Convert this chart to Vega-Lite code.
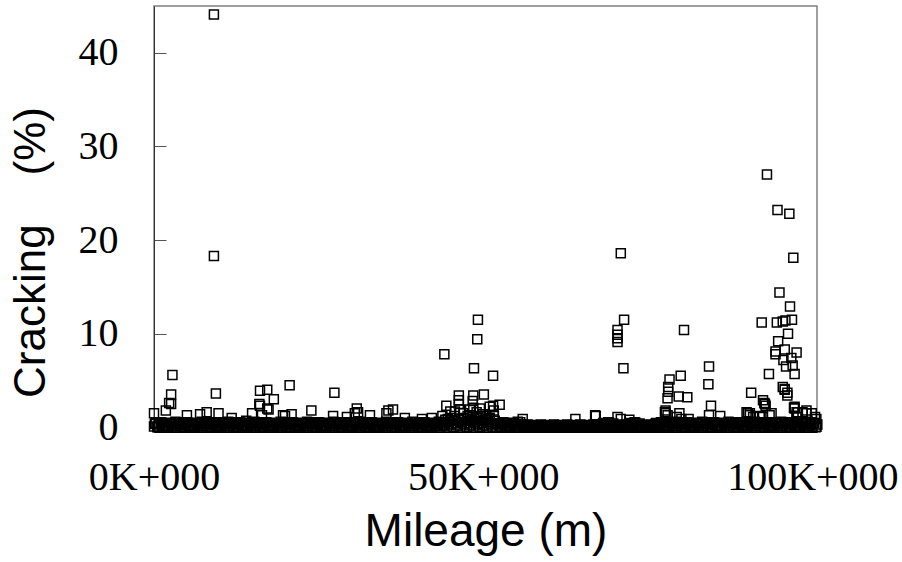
{
"$schema": "https://vega.github.io/schema/vega-lite/v6.json",
"width": 663, "height": 426,
"autosize": {"type": "none"},
"padding": {"left": 154, "top": 6, "right": 85, "bottom": 130},
"background": "white",
"config": {"view": {"stroke": "#808080", "strokeWidth": 1.5}},
"data": {"values": [
{"m":0,"c":0.1},{"m":250,"c":0.45},{"m":500,"c":0.0},{"m":750,"c":0.3},{"m":1000,"c":0.55},{"m":1250,"c":0.2},{"m":1500,"c":0.05},{"m":1750,"c":0.4},
{"m":2000,"c":0.25},{"m":2250,"c":0.0},{"m":2500,"c":0.5},{"m":2750,"c":0.15},{"m":3000,"c":0.35},{"m":3250,"c":0.6},{"m":3500,"c":0.1},{"m":3750,"c":0.3},
{"m":4000,"c":0.1},{"m":4250,"c":0.45},{"m":4500,"c":0.0},{"m":4750,"c":0.3},{"m":5000,"c":0.55},{"m":5250,"c":0.2},{"m":5500,"c":0.05},{"m":5750,"c":0.4},
{"m":6000,"c":0.25},{"m":6250,"c":0.0},{"m":6500,"c":0.5},{"m":6750,"c":0.15},{"m":7000,"c":0.35},{"m":7250,"c":0.6},{"m":7500,"c":0.1},{"m":7750,"c":0.3},
{"m":8000,"c":0.1},{"m":8250,"c":0.45},{"m":8500,"c":0.0},{"m":8750,"c":0.3},{"m":9000,"c":0.55},{"m":9250,"c":0.2},{"m":9500,"c":0.05},{"m":9750,"c":0.4},
{"m":10000,"c":0.25},{"m":10250,"c":0.0},{"m":10500,"c":0.5},{"m":10750,"c":0.15},{"m":11000,"c":0.35},{"m":11250,"c":0.6},{"m":11500,"c":0.1},{"m":11750,"c":0.3},
{"m":12000,"c":0.1},{"m":12250,"c":0.45},{"m":12500,"c":0.0},{"m":12750,"c":0.3},{"m":13000,"c":0.55},{"m":13250,"c":0.2},{"m":13500,"c":0.05},{"m":13750,"c":0.4},
{"m":14000,"c":0.25},{"m":14250,"c":0.0},{"m":14500,"c":0.5},{"m":14750,"c":0.15},{"m":15000,"c":0.35},{"m":15250,"c":0.6},{"m":15500,"c":0.1},{"m":15750,"c":0.3},
{"m":16000,"c":0.1},{"m":16250,"c":0.45},{"m":16500,"c":0.0},{"m":16750,"c":0.3},{"m":17000,"c":0.55},{"m":17250,"c":0.2},{"m":17500,"c":0.05},{"m":17750,"c":0.4},
{"m":18000,"c":0.25},{"m":18250,"c":0.0},{"m":18500,"c":0.5},{"m":18750,"c":0.15},{"m":19000,"c":0.35},{"m":19250,"c":0.6},{"m":19500,"c":0.1},{"m":19750,"c":0.3},
{"m":20000,"c":0.1},{"m":20250,"c":0.45},{"m":20500,"c":0.0},{"m":20750,"c":0.3},{"m":21000,"c":0.55},{"m":21250,"c":0.2},{"m":21500,"c":0.05},{"m":21750,"c":0.4},
{"m":22000,"c":0.25},{"m":22250,"c":0.0},{"m":22500,"c":0.5},{"m":22750,"c":0.15},{"m":23000,"c":0.35},{"m":23250,"c":0.6},{"m":23500,"c":0.1},{"m":23750,"c":0.3},
{"m":24000,"c":0.1},{"m":24250,"c":0.45},{"m":24500,"c":0.0},{"m":24750,"c":0.3},{"m":25000,"c":0.55},{"m":25250,"c":0.2},{"m":25500,"c":0.05},{"m":25750,"c":0.4},
{"m":26000,"c":0.25},{"m":26250,"c":0.0},{"m":26500,"c":0.5},{"m":26750,"c":0.15},{"m":27000,"c":0.35},{"m":27250,"c":0.6},{"m":27500,"c":0.1},{"m":27750,"c":0.3},
{"m":28000,"c":0.1},{"m":28250,"c":0.45},{"m":28500,"c":0.0},{"m":28750,"c":0.3},{"m":29000,"c":0.55},{"m":29250,"c":0.2},{"m":29500,"c":0.05},{"m":29750,"c":0.4},
{"m":30000,"c":0.25},{"m":30250,"c":0.0},{"m":30500,"c":0.5},{"m":30750,"c":0.15},{"m":31000,"c":0.35},{"m":31250,"c":0.6},{"m":31500,"c":0.1},{"m":31750,"c":0.3},
{"m":32000,"c":0.1},{"m":32250,"c":0.45},{"m":32500,"c":0.0},{"m":32750,"c":0.3},{"m":33000,"c":0.55},{"m":33250,"c":0.2},{"m":33500,"c":0.05},{"m":33750,"c":0.4},
{"m":34000,"c":0.25},{"m":34250,"c":0.0},{"m":34500,"c":0.5},{"m":34750,"c":0.15},{"m":35000,"c":0.35},{"m":35250,"c":0.6},{"m":35500,"c":0.1},{"m":35750,"c":0.3},
{"m":36000,"c":0.1},{"m":36250,"c":0.45},{"m":36500,"c":0.0},{"m":36750,"c":0.3},{"m":37000,"c":0.55},{"m":37250,"c":0.2},{"m":37500,"c":0.05},{"m":37750,"c":0.4},
{"m":38000,"c":0.25},{"m":38250,"c":0.0},{"m":38500,"c":0.5},{"m":38750,"c":0.15},{"m":39000,"c":0.35},{"m":39250,"c":0.6},{"m":39500,"c":0.1},{"m":39750,"c":0.3},
{"m":40000,"c":0.1},{"m":40250,"c":0.45},{"m":40500,"c":0.0},{"m":40750,"c":0.3},{"m":41000,"c":0.55},{"m":41250,"c":0.2},{"m":41500,"c":0.05},{"m":41750,"c":0.4},
{"m":42000,"c":0.25},{"m":42250,"c":0.0},{"m":42500,"c":0.5},{"m":42750,"c":0.15},{"m":43000,"c":0.35},{"m":43250,"c":0.6},{"m":43500,"c":0.1},{"m":43750,"c":0.3},
{"m":44000,"c":0.2},{"m":44250,"c":0.8},{"m":44500,"c":0.1},{"m":44750,"c":0.6},{"m":45000,"c":1.0},{"m":45250,"c":0.4},{"m":45500,"c":0.0},{"m":45750,"c":0.7},
{"m":46000,"c":0.2},{"m":46250,"c":0.8},{"m":46500,"c":0.1},{"m":46750,"c":0.6},{"m":47000,"c":1.0},{"m":47250,"c":0.4},{"m":47500,"c":0.0},{"m":47750,"c":0.7},
{"m":48000,"c":0.2},{"m":48250,"c":0.8},{"m":48500,"c":0.1},{"m":48750,"c":0.6},{"m":49000,"c":1.0},{"m":49250,"c":0.4},{"m":49500,"c":0.0},{"m":49750,"c":0.7},
{"m":50000,"c":0.2},{"m":50250,"c":0.8},{"m":50500,"c":0.1},{"m":50750,"c":0.6},{"m":51000,"c":1.0},{"m":51250,"c":0.4},{"m":51500,"c":0.0},{"m":51750,"c":0.7},
{"m":52000,"c":0.1},{"m":52250,"c":0.45},{"m":52500,"c":0.0},{"m":52750,"c":0.3},{"m":53000,"c":0.55},{"m":53250,"c":0.2},{"m":53500,"c":0.05},{"m":53750,"c":0.4},
{"m":54000,"c":0.25},{"m":54250,"c":0.0},{"m":54500,"c":0.5},{"m":54750,"c":0.15},{"m":55000,"c":0.35},{"m":55250,"c":0.6},{"m":55500,"c":0.1},{"m":55750,"c":0.3},
{"m":56000,"c":0.0},{"m":56250,"c":0.2},{"m":56500,"c":0.1},{"m":56750,"c":0.3},{"m":57000,"c":0.05},{"m":57250,"c":0.15},{"m":57500,"c":0.25},{"m":57750,"c":0.0},
{"m":58000,"c":0.0},{"m":58250,"c":0.2},{"m":58500,"c":0.1},{"m":58750,"c":0.3},{"m":59000,"c":0.05},{"m":59250,"c":0.15},{"m":59500,"c":0.25},{"m":59750,"c":0.0},
{"m":60000,"c":0.0},{"m":60250,"c":0.2},{"m":60500,"c":0.1},{"m":60750,"c":0.3},{"m":61000,"c":0.05},{"m":61250,"c":0.15},{"m":61500,"c":0.25},{"m":61750,"c":0.0},
{"m":62000,"c":0.0},{"m":62250,"c":0.2},{"m":62500,"c":0.1},{"m":62750,"c":0.3},{"m":63000,"c":0.05},{"m":63250,"c":0.15},{"m":63500,"c":0.25},{"m":63750,"c":0.0},
{"m":64000,"c":0.0},{"m":64250,"c":0.2},{"m":64500,"c":0.1},{"m":64750,"c":0.3},{"m":65000,"c":0.05},{"m":65250,"c":0.15},{"m":65500,"c":0.25},{"m":65750,"c":0.0},
{"m":66000,"c":0.0},{"m":66250,"c":0.2},{"m":66500,"c":0.1},{"m":66750,"c":0.3},{"m":67000,"c":0.05},{"m":67250,"c":0.15},{"m":67500,"c":0.25},{"m":67750,"c":0.0},
{"m":68000,"c":0.1},{"m":68250,"c":0.45},{"m":68500,"c":0.0},{"m":68750,"c":0.3},{"m":69000,"c":0.55},{"m":69250,"c":0.2},{"m":69500,"c":0.05},{"m":69750,"c":0.4},
{"m":70000,"c":0.0},{"m":70250,"c":0.2},{"m":70500,"c":0.1},{"m":70750,"c":0.3},{"m":71000,"c":0.05},{"m":71250,"c":0.15},{"m":71500,"c":0.25},{"m":71750,"c":0.0},
{"m":72000,"c":0.1},{"m":72250,"c":0.45},{"m":72500,"c":0.0},{"m":72750,"c":0.3},{"m":73000,"c":0.55},{"m":73250,"c":0.2},{"m":73500,"c":0.05},{"m":73750,"c":0.4},
{"m":74000,"c":0.0},{"m":74250,"c":0.2},{"m":74500,"c":0.1},{"m":74750,"c":0.3},{"m":75000,"c":0.05},{"m":75250,"c":0.15},{"m":75500,"c":0.25},{"m":75750,"c":0.0},
{"m":76000,"c":0.1},{"m":76250,"c":0.45},{"m":76500,"c":0.0},{"m":76750,"c":0.3},{"m":77000,"c":0.55},{"m":77250,"c":0.2},{"m":77500,"c":0.05},{"m":77750,"c":0.4},
{"m":78000,"c":0.25},{"m":78250,"c":0.0},{"m":78500,"c":0.5},{"m":78750,"c":0.15},{"m":79000,"c":0.35},{"m":79250,"c":0.6},{"m":79500,"c":0.1},{"m":79750,"c":0.3},
{"m":80000,"c":0.1},{"m":80250,"c":0.45},{"m":80500,"c":0.0},{"m":80750,"c":0.3},{"m":81000,"c":0.55},{"m":81250,"c":0.2},{"m":81500,"c":0.05},{"m":81750,"c":0.4},
{"m":82000,"c":0.25},{"m":82250,"c":0.0},{"m":82500,"c":0.5},{"m":82750,"c":0.15},{"m":83000,"c":0.35},{"m":83250,"c":0.6},{"m":83500,"c":0.1},{"m":83750,"c":0.3},
{"m":84000,"c":0.1},{"m":84250,"c":0.45},{"m":84500,"c":0.0},{"m":84750,"c":0.3},{"m":85000,"c":0.55},{"m":85250,"c":0.2},{"m":85500,"c":0.05},{"m":85750,"c":0.4},
{"m":86000,"c":0.25},{"m":86250,"c":0.0},{"m":86500,"c":0.5},{"m":86750,"c":0.15},{"m":87000,"c":0.35},{"m":87250,"c":0.6},{"m":87500,"c":0.1},{"m":87750,"c":0.3},
{"m":88000,"c":0.1},{"m":88250,"c":0.45},{"m":88500,"c":0.0},{"m":88750,"c":0.3},{"m":89000,"c":0.55},{"m":89250,"c":0.2},{"m":89500,"c":0.05},{"m":89750,"c":0.4},
{"m":90000,"c":0.25},{"m":90250,"c":0.0},{"m":90500,"c":0.5},{"m":90750,"c":0.15},{"m":91000,"c":0.35},{"m":91250,"c":0.6},{"m":91500,"c":0.1},{"m":91750,"c":0.3},
{"m":92000,"c":0.1},{"m":92250,"c":0.45},{"m":92500,"c":0.0},{"m":92750,"c":0.3},{"m":93000,"c":0.55},{"m":93250,"c":0.2},{"m":93500,"c":0.05},{"m":93750,"c":0.4},
{"m":94000,"c":0.25},{"m":94250,"c":0.0},{"m":94500,"c":0.5},{"m":94750,"c":0.15},{"m":95000,"c":0.35},{"m":95250,"c":0.6},{"m":95500,"c":0.1},{"m":95750,"c":0.3},
{"m":96000,"c":0.1},{"m":96250,"c":0.45},{"m":96500,"c":0.0},{"m":96750,"c":0.3},{"m":97000,"c":0.55},{"m":97250,"c":0.2},{"m":97500,"c":0.05},{"m":97750,"c":0.4},
{"m":98000,"c":0.25},{"m":98250,"c":0.0},{"m":98500,"c":0.5},{"m":98750,"c":0.15},{"m":99000,"c":0.35},{"m":99250,"c":0.6},{"m":99500,"c":0.1},{"m":99750,"c":0.3},
{"m":100000,"c":0.1},{"m":100250,"c":0.45},{"m":100500,"c":0.0},{"m":100750,"c":0.3},
{"m":125,"c":0.35},{"m":625,"c":0.05},{"m":1125,"c":0.5},{"m":1625,"c":0.2},
{"m":2125,"c":0.0},{"m":2625,"c":0.4},{"m":3125,"c":0.15},{"m":3625,"c":0.55},
{"m":4125,"c":0.35},{"m":4625,"c":0.05},{"m":5125,"c":0.5},{"m":5625,"c":0.2},
{"m":6125,"c":0.0},{"m":6625,"c":0.4},{"m":7125,"c":0.15},{"m":7625,"c":0.55},
{"m":8125,"c":0.35},{"m":8625,"c":0.05},{"m":9125,"c":0.5},{"m":9625,"c":0.2},
{"m":10125,"c":0.0},{"m":10625,"c":0.4},{"m":11125,"c":0.15},{"m":11625,"c":0.55},
{"m":12125,"c":0.35},{"m":12625,"c":0.05},{"m":13125,"c":0.5},{"m":13625,"c":0.2},
{"m":14125,"c":0.0},{"m":14625,"c":0.4},{"m":15125,"c":0.15},{"m":15625,"c":0.55},
{"m":16125,"c":0.35},{"m":16625,"c":0.05},{"m":17125,"c":0.5},{"m":17625,"c":0.2},
{"m":18125,"c":0.0},{"m":18625,"c":0.4},{"m":19125,"c":0.15},{"m":19625,"c":0.55},
{"m":20125,"c":0.35},{"m":20625,"c":0.05},{"m":21125,"c":0.5},{"m":21625,"c":0.2},
{"m":22125,"c":0.0},{"m":22625,"c":0.4},{"m":23125,"c":0.15},{"m":23625,"c":0.55},
{"m":24125,"c":0.35},{"m":24625,"c":0.05},{"m":25125,"c":0.5},{"m":25625,"c":0.2},
{"m":26125,"c":0.0},{"m":26625,"c":0.4},{"m":27125,"c":0.15},{"m":27625,"c":0.55},
{"m":28125,"c":0.35},{"m":28625,"c":0.05},{"m":29125,"c":0.5},{"m":29625,"c":0.2},
{"m":30125,"c":0.0},{"m":30625,"c":0.4},{"m":31125,"c":0.15},{"m":31625,"c":0.55},
{"m":32125,"c":0.35},{"m":32625,"c":0.05},{"m":33125,"c":0.5},{"m":33625,"c":0.2},
{"m":34125,"c":0.0},{"m":34625,"c":0.4},{"m":35125,"c":0.15},{"m":35625,"c":0.55},
{"m":36125,"c":0.35},{"m":36625,"c":0.05},{"m":37125,"c":0.5},{"m":37625,"c":0.2},
{"m":38125,"c":0.0},{"m":38625,"c":0.4},{"m":39125,"c":0.15},{"m":39625,"c":0.55},
{"m":40125,"c":0.35},{"m":40625,"c":0.05},{"m":41125,"c":0.5},{"m":41625,"c":0.2},
{"m":42125,"c":0.0},{"m":42625,"c":0.4},{"m":43125,"c":0.15},{"m":43625,"c":0.55},
{"m":44125,"c":0.5},{"m":44625,"c":0.9},{"m":45125,"c":0.3},{"m":45625,"c":1.2},
{"m":46125,"c":0.5},{"m":46625,"c":0.9},{"m":47125,"c":0.3},{"m":47625,"c":1.2},
{"m":48125,"c":0.5},{"m":48625,"c":0.9},{"m":49125,"c":0.3},{"m":49625,"c":1.2},
{"m":50125,"c":0.5},{"m":50625,"c":0.9},{"m":51125,"c":0.3},{"m":51625,"c":1.2},
{"m":52125,"c":0.35},{"m":52625,"c":0.05},{"m":53125,"c":0.5},{"m":53625,"c":0.2},
{"m":54125,"c":0.0},{"m":54625,"c":0.4},{"m":55125,"c":0.15},{"m":55625,"c":0.55},
{"m":56125,"c":0.1},{"m":56625,"c":0.0},{"m":57125,"c":0.2},{"m":57625,"c":0.05},
{"m":58125,"c":0.1},{"m":58625,"c":0.0},{"m":59125,"c":0.2},{"m":59625,"c":0.05},
{"m":60125,"c":0.1},{"m":60625,"c":0.0},{"m":61125,"c":0.2},{"m":61625,"c":0.05},
{"m":62125,"c":0.1},{"m":62625,"c":0.0},{"m":63125,"c":0.2},{"m":63625,"c":0.05},
{"m":64125,"c":0.1},{"m":64625,"c":0.0},{"m":65125,"c":0.2},{"m":65625,"c":0.05},
{"m":66125,"c":0.1},{"m":66625,"c":0.0},{"m":67125,"c":0.2},{"m":67625,"c":0.05},
{"m":68125,"c":0.35},{"m":68625,"c":0.05},{"m":69125,"c":0.5},{"m":69625,"c":0.2},
{"m":70125,"c":0.1},{"m":70625,"c":0.0},{"m":71125,"c":0.2},{"m":71625,"c":0.05},
{"m":72125,"c":0.35},{"m":72625,"c":0.05},{"m":73125,"c":0.5},{"m":73625,"c":0.2},
{"m":74125,"c":0.1},{"m":74625,"c":0.0},{"m":75125,"c":0.2},{"m":75625,"c":0.05},
{"m":76125,"c":0.35},{"m":76625,"c":0.05},{"m":77125,"c":0.5},{"m":77625,"c":0.2},
{"m":78125,"c":0.0},{"m":78625,"c":0.4},{"m":79125,"c":0.15},{"m":79625,"c":0.55},
{"m":80125,"c":0.35},{"m":80625,"c":0.05},{"m":81125,"c":0.5},{"m":81625,"c":0.2},
{"m":82125,"c":0.0},{"m":82625,"c":0.4},{"m":83125,"c":0.15},{"m":83625,"c":0.55},
{"m":84125,"c":0.35},{"m":84625,"c":0.05},{"m":85125,"c":0.5},{"m":85625,"c":0.2},
{"m":86125,"c":0.0},{"m":86625,"c":0.4},{"m":87125,"c":0.15},{"m":87625,"c":0.55},
{"m":88125,"c":0.35},{"m":88625,"c":0.05},{"m":89125,"c":0.5},{"m":89625,"c":0.2},
{"m":90125,"c":0.0},{"m":90625,"c":0.4},{"m":91125,"c":0.15},{"m":91625,"c":0.55},
{"m":92125,"c":0.35},{"m":92625,"c":0.05},{"m":93125,"c":0.5},{"m":93625,"c":0.2},
{"m":94125,"c":0.0},{"m":94625,"c":0.4},{"m":95125,"c":0.15},{"m":95625,"c":0.55},
{"m":96125,"c":0.35},{"m":96625,"c":0.05},{"m":97125,"c":0.5},{"m":97625,"c":0.2},
{"m":98125,"c":0.0},{"m":98625,"c":0.4},{"m":99125,"c":0.15},{"m":99625,"c":0.55},
{"m":100125,"c":0.35},{"m":100625,"c":0.05},
{"m":9100,"c":44.1},{"m":9100,"c":18.3},{"m":9400,"c":3.6},{"m":2800,"c":5.6},{"m":2600,"c":3.5},{"m":2300,"c":2.6},{"m":2600,"c":2.5},{"m":1800,"c":1.8},{"m":0,"c":1.5},
{"m":16100,"c":3.9},{"m":17200,"c":4.0},{"m":18200,"c":3.0},{"m":20600,"c":4.5},{"m":27400,"c":3.7},{"m":16000,"c":2.5},{"m":16100,"c":2.3},{"m":30800,"c":2.0},{"m":23900,"c":1.8},
{"m":8000,"c":1.6},{"m":7000,"c":1.4},{"m":5000,"c":1.3},{"m":9800,"c":1.5},{"m":11800,"c":1.0},{"m":14900,"c":1.5},{"m":16400,"c":1.3},{"m":17200,"c":2.0},{"m":17400,"c":1.9},
{"m":20900,"c":1.4},{"m":19600,"c":1.3},{"m":19900,"c":1.2},{"m":14000,"c":0.7},{"m":27200,"c":1.2},{"m":29300,"c":1.1},{"m":31000,"c":1.6},{"m":30500,"c":1.5},{"m":32800,"c":1.3},
{"m":35600,"c":1.8},{"m":35300,"c":1.5},{"m":36300,"c":1.9},{"m":38100,"c":1.0},{"m":40700,"c":0.9},{"m":42200,"c":1.0},{"m":43800,"c":1.2},
{"m":49200,"c":11.5},{"m":49100,"c":9.4},{"m":44100,"c":7.8},{"m":48600,"c":6.3},{"m":51500,"c":5.5},{"m":46300,"c":3.4},{"m":48500,"c":3.4},{"m":50100,"c":3.5},{"m":46300,"c":2.9},
{"m":46300,"c":2.5},{"m":48400,"c":2.8},{"m":44400,"c":2.3},{"m":52500,"c":2.4},{"m":51500,"c":2.3},{"m":45000,"c":1.7},{"m":48000,"c":1.9},{"m":45700,"c":1.7},{"m":46500,"c":1.9},
{"m":51000,"c":2.2},{"m":51600,"c":1.8},{"m":47000,"c":1.5},{"m":48000,"c":1.3},{"m":49000,"c":1.6},{"m":50000,"c":1.4},{"m":50500,"c":1.2},{"m":51000,"c":1.0},{"m":49500,"c":2.0},{"m":48500,"c":2.1},
{"m":56000,"c":0.9},{"m":64000,"c":0.9},{"m":67000,"c":1.3},{"m":67100,"c":1.2},
{"m":70900,"c":18.6},{"m":71400,"c":11.5},{"m":70400,"c":10.4},{"m":70400,"c":9.9},{"m":70400,"c":9.5},{"m":70400,"c":9.1},{"m":80500,"c":10.4},{"m":71300,"c":6.3},{"m":84300,"c":6.5},
{"m":84200,"c":4.6},{"m":84600,"c":2.3},{"m":80000,"c":5.5},{"m":78300,"c":5.1},{"m":78100,"c":4.3},{"m":78100,"c":3.8},{"m":79700,"c":3.3},{"m":81000,"c":3.2},{"m":78000,"c":3.1},
{"m":77700,"c":1.8},{"m":77700,"c":1.5},{"m":79800,"c":1.5},{"m":70900,"c":0.9},{"m":72200,"c":0.8},{"m":70400,"c":1.1},{"m":86000,"c":1.2},{"m":81200,"c":0.9},{"m":77600,"c":1.6},
{"m":78000,"c":1.3},{"m":79400,"c":1.1},{"m":80100,"c":0.9},{"m":84300,"c":1.3},
{"m":93100,"c":27.0},{"m":94700,"c":23.2},{"m":96500,"c":22.8},{"m":97100,"c":18.1},{"m":95000,"c":14.4},{"m":96600,"c":12.9},{"m":96900,"c":11.5},{"m":92300,"c":11.2},{"m":94600,"c":11.2},
{"m":95500,"c":11.3},{"m":95900,"c":11.4},{"m":96300,"c":10.0},{"m":94800,"c":9.2},{"m":94400,"c":8.1},{"m":94400,"c":7.8},{"m":95800,"c":8.3},{"m":97600,"c":8.0},{"m":95600,"c":7.2},
{"m":96800,"c":7.4},{"m":96000,"c":6.5},{"m":97000,"c":6.6},{"m":97300,"c":5.7},{"m":93400,"c":5.7},{"m":95500,"c":4.3},{"m":95800,"c":4.0},{"m":96200,"c":3.4},{"m":95800,"c":4.1},
{"m":96200,"c":3.7},{"m":90700,"c":3.7},{"m":92500,"c":2.9},{"m":92800,"c":2.5},{"m":92700,"c":2.6},{"m":92900,"c":2.3},{"m":97200,"c":2.1},{"m":97300,"c":2.0},{"m":97300,"c":2.2},
{"m":90200,"c":1.5},{"m":97600,"c":1.6},{"m":97800,"c":1.6},{"m":99100,"c":1.8},{"m":99900,"c":1.5},{"m":100400,"c":1.1},{"m":98500,"c":1.6},{"m":90000,"c":1.6},{"m":90500,"c":1.5},
{"m":91000,"c":1.1},{"m":92500,"c":1.1},{"m":93500,"c":1.3},{"m":93800,"c":1.5},{"m":99100,"c":1.5},{"m":100600,"c":0.9},{"m":97600,"c":1.1},{"m":90500,"c":1.3},{"m":92000,"c":1.2}
]},
"mark": {"type": "point", "shape": "square", "filled": false, "size": 81, "strokeWidth": 1.5, "color": "black", "opacity": 1, "clip": false},
"encoding": {
  "x": {"field": "m", "type": "quantitative",
    "scale": {"domain": [0, 100700], "nice": false, "zero": false},
    "axis": {"values": [0, 50000, 100000], "labelExpr": "(datum.value/1000) + 'K+000'", "grid": false,
      "domainColor": "black", "tickColor": "#555", "tickSize": -12,
      "labelFont": "Liberation Serif", "labelFontSize": 40, "labelColor": "black", "labelPadding": 37, "labelFlush": false, "labelOverlap": false,
      "title": "Mileage (m)", "titleFont": "Liberation Sans", "titleFontSize": 46, "titleFontWeight": "normal", "titleColor": "black", "titlePadding": 12}},
  "y": {"field": "c", "type": "quantitative",
    "scale": {"domain": [-0.5, 45], "nice": false, "zero": false},
    "axis": {"values": [0, 10, 20, 30, 40], "grid": false,
      "domainColor": "#333", "tickColor": "#555", "tickSize": -12,
      "labelFont": "Liberation Serif", "labelFontSize": 40, "labelColor": "black", "labelPadding": 48, "labelFlush": false, "labelOverlap": false,
      "title": "Cracking\u00a0\u00a0\u00a0\u00a0(%)", "titleFont": "Liberation Sans", "titleFontSize": 44, "titleFontWeight": "normal", "titleColor": "black",
      "titleX": -110, "titleY": 246, "titleBaseline": "alphabetic", "titleAngle": -90}}
}
}
